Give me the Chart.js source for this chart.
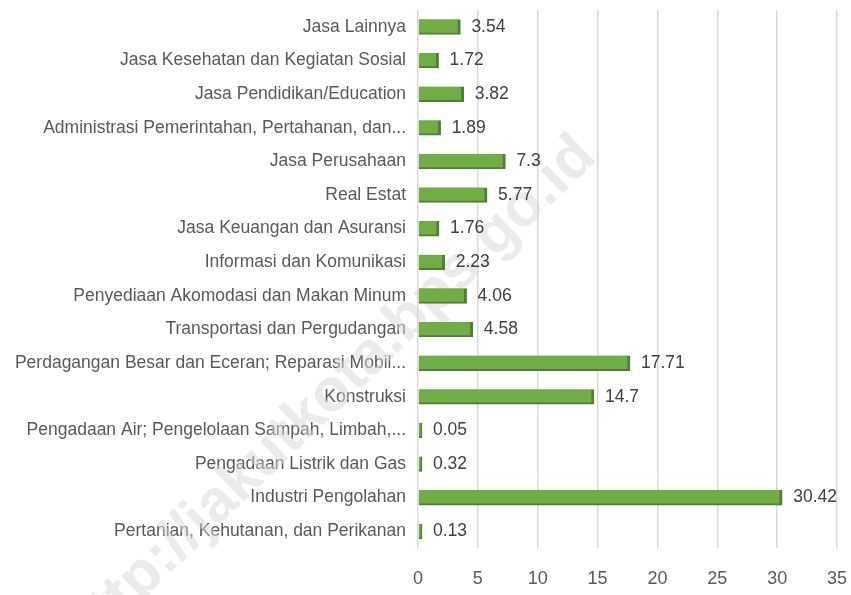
<!DOCTYPE html>
<html>
<head>
<meta charset="utf-8">
<script src="https://cdn.jsdelivr.net/npm/chart.js@4.4.0/dist/chart.umd.min.js"></script>
<style>
  html, body { margin: 0; padding: 0; background: #ffffff; }
  #wrap { width: 851px; height: 595px; }
</style>
</head>
<body>
<div id="wrap"><canvas id="chart" width="851" height="595"></canvas></div>
<script>
  // sektor lapangan usaha, top to bottom as in the picture
  const categories = [
    'Jasa Lainnya',
    'Jasa Kesehatan dan Kegiatan Sosial',
    'Jasa Pendidikan/Education',
    'Administrasi Pemerintahan, Pertahanan, dan...',
    'Jasa Perusahaan',
    'Real Estat',
    'Jasa Keuangan dan Asuransi',
    'Informasi dan Komunikasi',
    'Penyediaan Akomodasi dan Makan Minum',
    'Transportasi dan Pergudangan',
    'Perdagangan Besar dan Eceran; Reparasi Mobil...',
    'Konstruksi',
    'Pengadaan Air; Pengelolaan Sampah, Limbah,...',
    'Pengadaan Listrik dan Gas',
    'Industri Pengolahan',
    'Pertanian, Kehutanan, dan Perikanan'
  ];
  const values = [3.54, 1.72, 3.82, 1.89, 7.3, 5.77, 1.76, 2.23, 4.06, 4.58, 17.71, 14.7, 0.05, 0.32, 30.42, 0.13];
  const xTicks = [0, 5, 10, 15, 20, 25, 30, 35];
  const watermark = 'http://jakutkota.bps.go.id';

  const fontFamily = "'Liberation Sans', sans-serif";

  // faint diagonal watermark behind the plot
  const watermarkPlugin = {
    id: 'watermark',
    beforeDatasetsDraw(chart) {
      const ctx = chart.ctx;
      ctx.save();
      ctx.translate(330, 395);
      ctx.rotate(-44 * Math.PI / 180);
      ctx.font = "bold 60px 'Liberation Sans', sans-serif";
      ctx.fillStyle = 'rgba(215,215,215,0.5)';
      ctx.textAlign = 'center';
      ctx.textBaseline = 'middle';
      ctx.fillText(watermark, 0, 0);
      ctx.restore();
    }
  };

  // value labels to the right of each bar
  const valueLabels = {
    id: 'valueLabels',
    afterDatasetsDraw(chart) {
      const ctx = chart.ctx;
      const meta = chart.getDatasetMeta(0);
      ctx.save();
      ctx.font = "17.5px " + fontFamily;
      ctx.fillStyle = '#404040';
      ctx.textAlign = 'left';
      ctx.textBaseline = 'middle';
      meta.data.forEach((bar, i) => {
        ctx.fillText(String(values[i]), bar.x + 11, bar.y);
      });
      ctx.restore();
    }
  };

  const ctx = document.getElementById('chart').getContext('2d');
  const myChart = new Chart(ctx, {
    type: 'bar',
    data: {
      labels: categories,
      datasets: [{
        data: values,
        backgroundColor: '#70ad47',
        borderColor: '#4f7f30',
        borderWidth: { top: 0, left: 0, bottom: 2, right: 3 },
        borderSkipped: false,
        barThickness: 15,
        minBarLength: 4
      }]
    },
    options: {
      indexAxis: 'y',
      responsive: false,
      animation: false,
      layout: { padding: { top: 10, right: 14, bottom: 0, left: 0 } },
      plugins: {
        legend: { display: false },
        tooltip: { enabled: false }
      },
      scales: {
        x: {
          min: 0,
          max: 35,
          afterBuildTicks(axis) { axis.ticks = xTicks.map(v => ({ value: v })); },
          afterFit(axis) {
            axis.height = 47;
            axis.paddingLeft = 0;
            axis.paddingRight = 0;
          },
          grid: { color: '#d9d9d9', lineWidth: 1.5, drawTicks: false },
          border: { display: false },
          ticks: {
            color: '#595959',
            font: { size: 18, family: fontFamily },
            padding: 20
          }
        },
        y: {
          grid: { display: false, drawTicks: false },
          border: { display: false },
          afterFit(axis) {
            axis.width = 418;
            axis.paddingTop = 0;
            axis.paddingBottom = 0;
          },
          ticks: {
            color: '#595959',
            font: { size: 17.5, family: fontFamily },
            padding: 12,
            autoSkip: false
          }
        }
      }
    },
    plugins: [watermarkPlugin, valueLabels]
  });
</script>
</body>
</html>
